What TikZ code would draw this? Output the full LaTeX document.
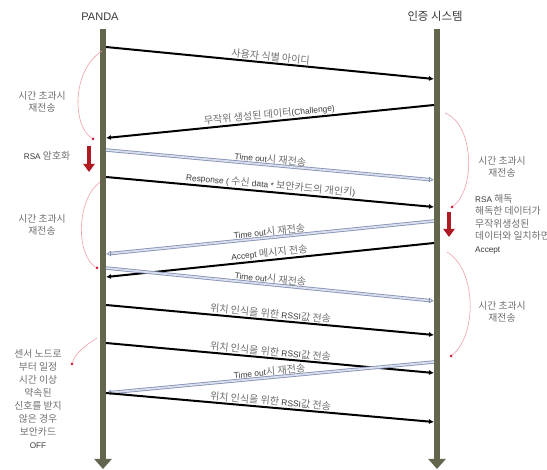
\documentclass[tikz,border=0pt]{standalone}
\usepackage{fontspec}
\setmainfont{Liberation Sans}
\newfontfamily\kr{Noto Sans CJK KR}[Scale=1.2]
\usetikzlibrary{arrows.meta}
\definecolor{barc}{HTML}{63664C}
\definecolor{txt}{HTML}{3A3A3A}
\definecolor{krc}{HTML}{707070}
\definecolor{dblc}{HTML}{8290B4}
\definecolor{dblin}{HTML}{D8DEEA}
\definecolor{arcc}{HTML}{F2A0A8}
\definecolor{dotc}{HTML}{D81E3C}
\definecolor{rsac}{HTML}{B01A22}
\newcommand{\K}[1]{{\kr\color{krc}#1}}
\tikzset{
  lifeline/.style={draw=barc, line width=6pt, -{Triangle[length=10pt,width=17pt]}},
  msgline/.style={draw=black, line width=2pt, -{Latex[length=5pt,width=5pt]}},
  dblline/.style={draw=dblc, line width=0.8pt, double=dblin, double distance=1.8pt, -{Latex[open,length=5pt,width=6pt]}},
  lbl/.style={midway, sloped, above, inner sep=1pt, font=\fontsize{8.4}{10}\selectfont, text=txt},
  side/.style={align=center, font=\fontsize{8.2}{12.6}\selectfont, text=txt, inner sep=0pt},
  side2/.style={align=center, font=\fontsize{8.2}{12.9}\selectfont, text=txt, inner sep=0pt},
  head/.style={font=\fontsize{11}{13}\selectfont, text=txt, inner sep=0pt},
  rsaarrow/.style={draw=rsac, line width=4pt, -{Triangle[length=8pt,width=11pt]}},
  arcline/.style={draw=arcc, line width=0.6pt},
  dot/.style={circle, fill=dotc, inner sep=0pt, minimum size=3pt}
}
\begin{document}
\begin{tikzpicture}[x=1pt,y=-1pt]
\useasboundingbox (0,0) rectangle (547,470);
\fill[white] (0,0) rectangle (547,470);
\clip (0,0) rectangle (547,470);
% headers
\node[head] (panda) at (100,17) {PANDA};
\node[head] (auth) at (435,16) {{\kr\fontsize{9.5}{11}\selectfont\color{txt}인증 시스템}};
% lifelines
\coordinate (lt) at (103,29); \coordinate (lb) at (103,469);
\coordinate (rt) at (437,29); \coordinate (rb) at (437,469);
\draw[lifeline] (lt) -- (lb);
\draw[lifeline] (rt) -- (rb);
% message end points
\coordinate (a1) at (106,47);  \coordinate (b1) at (434,79);
\coordinate (b2) at (434,105); \coordinate (a2) at (106,138);
\coordinate (a3) at (106,150); \coordinate (b3) at (434,180);
\coordinate (a4) at (106,177); \coordinate (b4) at (434,207);
\coordinate (b5) at (434,221); \coordinate (a5) at (106,254);
\coordinate (b6) at (434,243); \coordinate (a6) at (106,277);
\coordinate (a7) at (106,268); \coordinate (b7) at (434,301);
\coordinate (a8) at (106,305); \coordinate (b8) at (434,335);
\coordinate (a9) at (106,343); \coordinate (b9) at (434,373);
\coordinate (b10) at (434,362); \coordinate (a10) at (106,393);
\coordinate (a11) at (106,393); \coordinate (b11) at (434,422);
% messages
\draw[msgline] (a1) -- node[lbl]{\K{사용자 식별 아이디}} (b1);
\draw[msgline] (b2) -- node[lbl]{\K{무작위 생성된 데이터}(Challenge)} (a2);
\draw[dblline] (a3) -- node[lbl]{Time out\K{시 재전송}} (b3);
\draw[msgline] (a4) -- node[lbl]{Response ( \K{수신} data * \K{보안카드의 개인키})} (b4);
\draw[dblline] (b5) -- node[lbl]{Time out\K{시 재전송}} (a5);
\draw[msgline] (b6) -- node[lbl]{Accept \K{메시지 전송}} (a6);
\draw[dblline] (a7) -- node[lbl]{Time out\K{시 재전송}} (b7);
\draw[msgline] (a8) -- node[lbl]{\K{위치 인식을 위한} RSSI\K{값 전송}} (b8);
\draw[msgline] (a9) -- node[lbl]{\K{위치 인식을 위한} RSSI\K{값 전송}} (b9);
\draw[dblline] (b10) -- node[lbl]{Time out\K{시 재전송}} (a10);
\draw[msgline] (a11) -- node[lbl]{\K{위치 인식을 위한} RSSI\K{값 전송}} (b11);
% red RSA arrows
\coordinate (ra1) at (89,146); \coordinate (ra2) at (89,172);
\coordinate (rb1) at (449,212); \coordinate (rb2) at (449,237);
\draw[rsaarrow] (ra1) -- (ra2);
\draw[rsaarrow] (rb1) -- (rb2);
% timeout arcs
\node[dot] (d1) at (93,139) {};
\node[dot] (d2) at (97,268) {};
\node[dot] (d3) at (72,364) {};
\node[dot] (d4) at (452,207) {};
\node[dot] (d5) at (451,356) {};
\coordinate (s1) at (102,51);
\coordinate (s2) at (100,182);
\coordinate (s3) at (97,338);
\coordinate (s4) at (445,113);
\coordinate (s5) at (447,252);
\draw[arcline] (s1) .. controls (72,70) and (72,125) .. (d1);
\draw[arcline] (s2) .. controls (76,200) and (76,255) .. (d2);
\draw[arcline] (s3) .. controls (86,345) and (75,353) .. (d3);
\draw[arcline] (s4) .. controls (475,125) and (475,190) .. (d4);
\draw[arcline] (s5) .. controls (477,270) and (477,335) .. (d5);
% side texts
\node[side] (t1) at (42,102) {\K{시간 초과시}\\\K{재전송}};
\node[side, anchor=center] (t2) at (47,156) {RSA \K{암호화}};
\node[side] (t3) at (42,225) {\K{시간 초과시}\\\K{재전송}};
\node[side] (t4) at (502,167) {\K{시간 초과시}\\\K{재전송}};
\node[side, align=left, anchor=west] (t5) at (475,224) {RSA \K{해독}\\\K{해독한 데이터가}\\\K{무작위생성된}\\\K{데이터와 일치하면}\\Accept};
\node[side] (t6) at (502,312) {\K{시간 초과시}\\\K{재전송}};
\node[side2] (t7) at (38,399) {\K{센서 노드로}\\\K{부터 일정}\\\K{시간 이상}\\\K{약속된}\\\K{신호를 받지}\\\K{않은 경우}\\\K{보안카드}\\OFF};
\end{tikzpicture}
\end{document}
